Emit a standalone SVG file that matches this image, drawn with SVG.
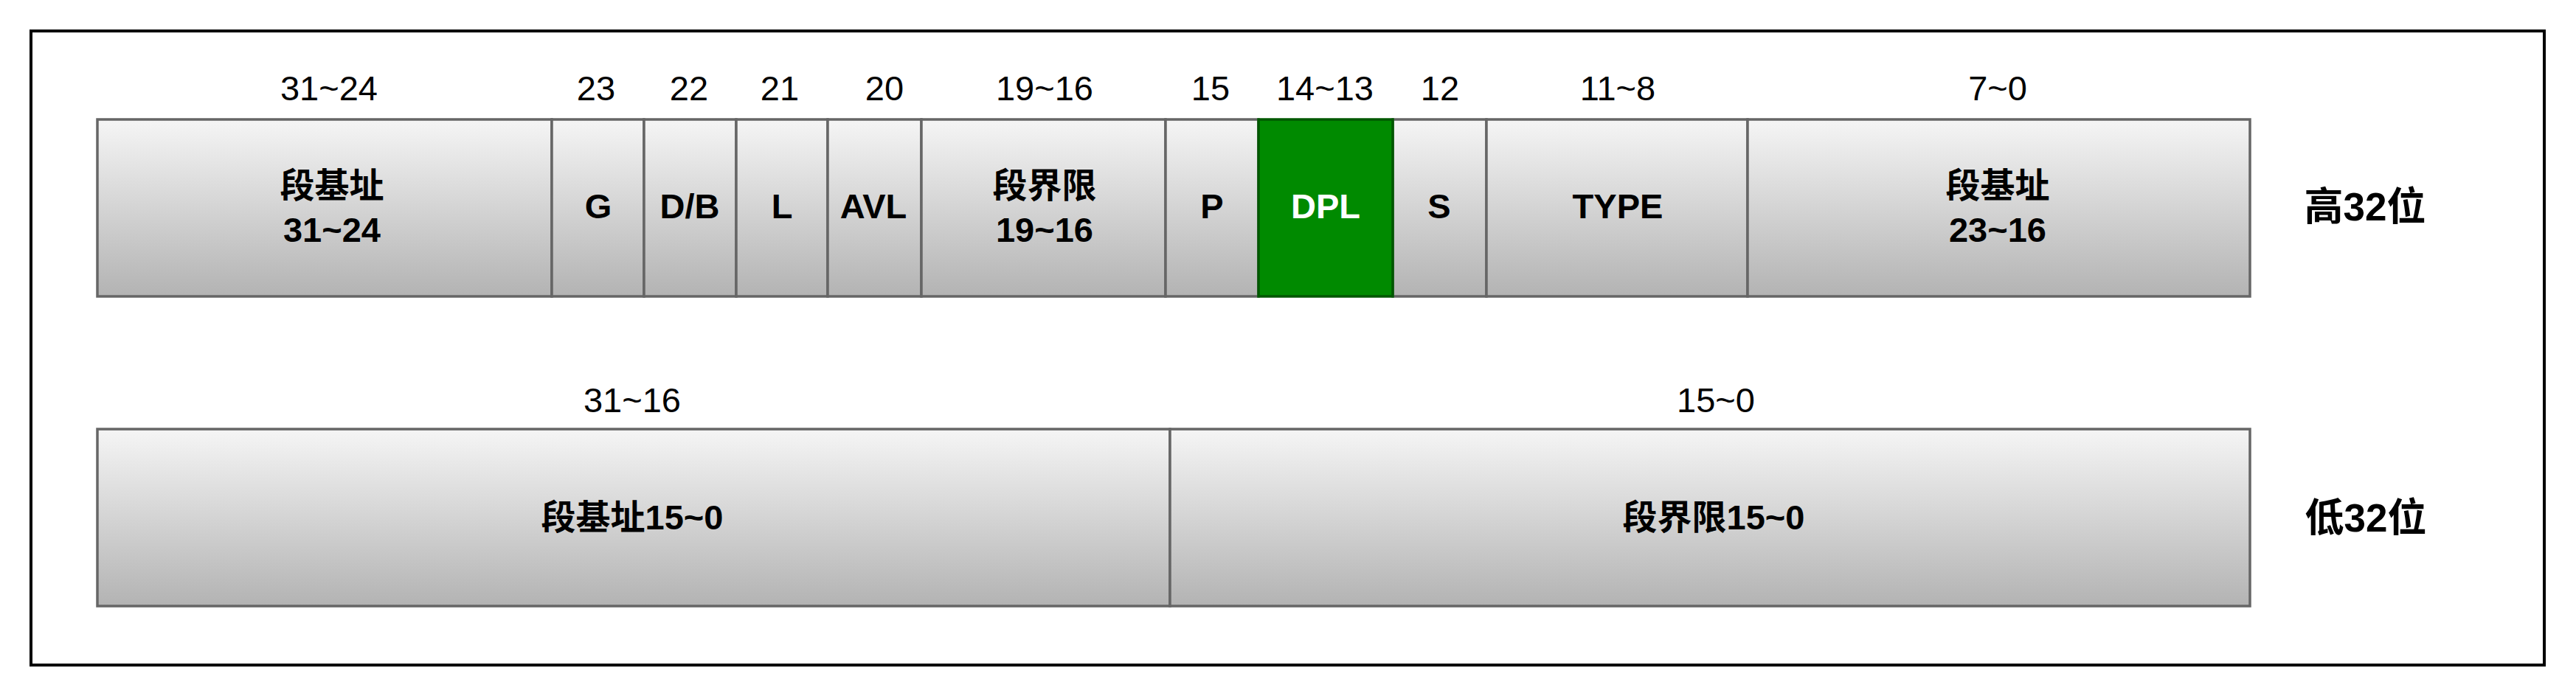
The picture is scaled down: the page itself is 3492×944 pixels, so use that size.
<svg xmlns="http://www.w3.org/2000/svg" width="3492" height="944" viewBox="0 0 3492 944">
<defs>
<linearGradient id="g" x1="0" y1="0" x2="0" y2="1">
<stop offset="0" stop-color="#f5f5f5"/>
<stop offset="1" stop-color="#b3b3b3"/>
</linearGradient>
<style>
.cell{fill:url(#g);stroke:#666666;stroke-width:3.5}
.green{fill:#008a00;stroke:#005700;stroke-width:3.5}
text{font-family:"Liberation Sans","Noto Sans CJK SC",sans-serif;font-size:47px;text-anchor:middle;fill:#000}
.b{font-weight:bold}
.w{fill:#ffffff}
.big{font-size:53px;font-weight:bold}
</style>
</defs>
<rect width="3492" height="944" fill="#ffffff"/>
<rect id="frame" x="42" y="42" width="3407" height="860" fill="none" stroke="#000000" stroke-width="4"/>

<g id="high-labels">
<text x="446" y="136">31~24</text>
<text x="808" y="136">23</text>
<text x="934" y="136">22</text>
<text x="1057" y="136">21</text>
<text x="1199" y="136">20</text>
<text x="1416" y="136">19~16</text>
<text x="1641" y="136">15</text>
<text x="1796" y="136">14~13</text>
<text x="1952" y="136">12</text>
<text x="2193" y="136">11~8</text>
<text x="2708" y="136">7~0</text>
</g>

<g id="base-31-24"><rect class="cell" x="132" y="162" width="616" height="240"/><text class="b" x="450" y="268">段基址</text><text class="b" x="450" y="328">31~24</text></g>
<g id="G"><rect class="cell" x="748" y="162" width="125" height="240"/><text class="b" x="811" y="296">G</text></g>
<g id="DB"><rect class="cell" x="873" y="162" width="125" height="240"/><text class="b" x="935" y="296">D/B</text></g>
<g id="L"><rect class="cell" x="998" y="162" width="124" height="240"/><text class="b" x="1060" y="296">L</text></g>
<g id="AVL"><rect class="cell" x="1122" y="162" width="127" height="240"/><text class="b" x="1184" y="296">AVL</text></g>
<g id="limit-19-16"><rect class="cell" x="1249" y="162" width="331" height="240"/><text class="b" x="1416" y="268">段界限</text><text class="b" x="1416" y="328">19~16</text></g>
<g id="P"><rect class="cell" x="1580" y="162" width="126" height="240"/><text class="b" x="1643" y="296">P</text></g>
<g id="S"><rect class="cell" x="1888" y="162" width="127" height="240"/><text class="b" x="1951" y="296">S</text></g>
<g id="TYPE"><rect class="cell" x="2015" y="162" width="354" height="240"/><text class="b" x="2193" y="296">TYPE</text></g>
<g id="base-23-16"><rect class="cell" x="2369" y="162" width="681" height="240"/><text class="b" x="2708" y="268">段基址</text><text class="b" x="2708" y="328">23~16</text></g>
<g id="DPL"><rect class="green" x="1706" y="162" width="182" height="240"/><text class="b w" x="1797" y="296">DPL</text></g>

<g id="low-labels">
<text x="857" y="559">31~16</text>
<text x="2326" y="559">15~0</text>
</g>
<g id="base-15-0"><rect class="cell" x="132" y="582" width="1454" height="240"/><text class="b" x="857" y="718">段基址15~0</text></g>
<g id="limit-15-0"><rect class="cell" x="1586" y="582" width="1464" height="240"/><text class="b" x="2323" y="718">段界限15~0</text></g>

<g id="side-labels">
<text class="big" x="3206" y="299">高32位</text>
<text class="big" x="3207" y="721">低32位</text>
</g>
<g id="connectors"/>
</svg>
